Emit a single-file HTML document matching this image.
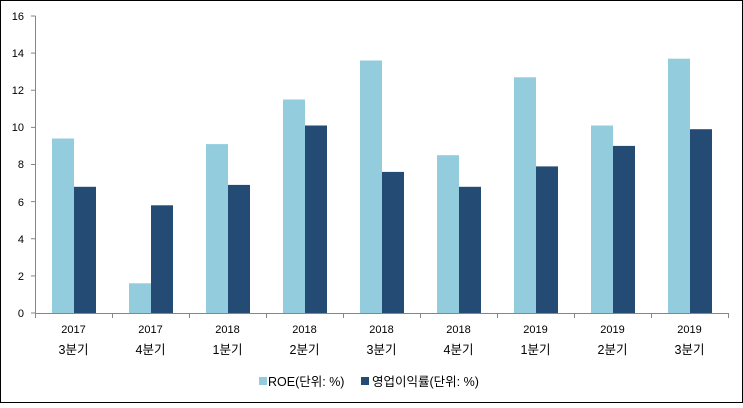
<!DOCTYPE html>
<html><head><meta charset="utf-8"><style>
body{margin:0;background:#fff}
svg text{font-family:"Liberation Sans","Noto Sans CJK KR",sans-serif;font-size:11px;fill:#000}
svg text.k{font-size:12.5px}
</style></head><body>
<svg width="743" height="403" xmlns="http://www.w3.org/2000/svg">
<rect x="0.5" y="0.5" width="742" height="402" fill="#fff" stroke="#000" stroke-width="1"/>
<g stroke="#868686">
<line x1="35.5" y1="16" x2="35.5" y2="313"/>
<line x1="31" y1="313" x2="35.5" y2="313"/>
<line x1="31" y1="275.9" x2="35.5" y2="275.9"/>
<line x1="31" y1="238.75" x2="35.5" y2="238.75"/>
<line x1="31" y1="201.6" x2="35.5" y2="201.6"/>
<line x1="31" y1="164.5" x2="35.5" y2="164.5"/>
<line x1="31" y1="127.4" x2="35.5" y2="127.4"/>
<line x1="31" y1="90.25" x2="35.5" y2="90.25"/>
<line x1="31" y1="53.1" x2="35.5" y2="53.1"/>
<line x1="31" y1="16" x2="35.5" y2="16"/>
</g>
<g text-anchor="end">
<text x="24" y="317">0</text><text x="24" y="280">2</text><text x="24" y="243">4</text>
<text x="24" y="206">6</text><text x="24" y="168">8</text><text x="24" y="131">10</text>
<text x="24" y="94">12</text><text x="24" y="57">14</text><text x="24" y="20">16</text>
</g>
<g fill="#93CDDD">
<rect x="52" y="138.5" width="22" height="174.5"/>
<rect x="129" y="283.3" width="22" height="29.7"/>
<rect x="206" y="144.1" width="22" height="168.9"/>
<rect x="283" y="99.5" width="22" height="213.5"/>
<rect x="360" y="60.5" width="22" height="252.5"/>
<rect x="437" y="155.2" width="22" height="157.8"/>
<rect x="514" y="77.3" width="22" height="235.7"/>
<rect x="591" y="125.5" width="22" height="187.5"/>
<rect x="668" y="58.7" width="22" height="254.3"/>
</g>
<g fill="#234B73">
<rect x="74" y="186.8" width="22" height="126.2"/>
<rect x="151" y="205.3" width="22" height="107.7"/>
<rect x="228" y="184.9" width="22" height="128.1"/>
<rect x="305" y="125.5" width="22" height="187.5"/>
<rect x="382" y="171.9" width="22" height="141.1"/>
<rect x="459" y="186.8" width="22" height="126.2"/>
<rect x="536" y="166.4" width="22" height="146.6"/>
<rect x="613" y="145.9" width="22" height="167.1"/>
<rect x="690" y="129.2" width="22" height="183.8"/>
</g>
<g stroke="#868686">
<line x1="35" y1="313.5" x2="728" y2="313.5"/>
<line x1="35.5" y1="313" x2="35.5" y2="318"/><line x1="112.5" y1="313" x2="112.5" y2="318"/>
<line x1="189.5" y1="313" x2="189.5" y2="318"/><line x1="266.5" y1="313" x2="266.5" y2="318"/>
<line x1="343.5" y1="313" x2="343.5" y2="318"/><line x1="420.5" y1="313" x2="420.5" y2="318"/>
<line x1="497.5" y1="313" x2="497.5" y2="318"/><line x1="574.5" y1="313" x2="574.5" y2="318"/>
<line x1="651.5" y1="313" x2="651.5" y2="318"/><line x1="728.5" y1="313" x2="728.5" y2="318"/>
</g>
<g text-anchor="middle">
<text x="73.5" y="333">2017</text><text class="k" x="73.5" y="354">3분기</text>
<text x="150.5" y="333">2017</text><text class="k" x="150.5" y="354">4분기</text>
<text x="227.5" y="333">2018</text><text class="k" x="227.5" y="354">1분기</text>
<text x="304.5" y="333">2018</text><text class="k" x="304.5" y="354">2분기</text>
<text x="381.5" y="333">2018</text><text class="k" x="381.5" y="354">3분기</text>
<text x="458.5" y="333">2018</text><text class="k" x="458.5" y="354">4분기</text>
<text x="535.5" y="333">2019</text><text class="k" x="535.5" y="354">1분기</text>
<text x="612.5" y="333">2019</text><text class="k" x="612.5" y="354">2분기</text>
<text x="689.5" y="333">2019</text><text class="k" x="689.5" y="354">3분기</text>
</g>
<rect x="259" y="377" width="8" height="8" fill="#93CDDD"/><text class="k" x="268" y="386">ROE(단위: %)</text>
<rect x="361" y="377" width="8" height="8" fill="#234B73"/><text class="k" x="372" y="386">영업이익률(단위: %)</text>
</svg>
</body></html>
